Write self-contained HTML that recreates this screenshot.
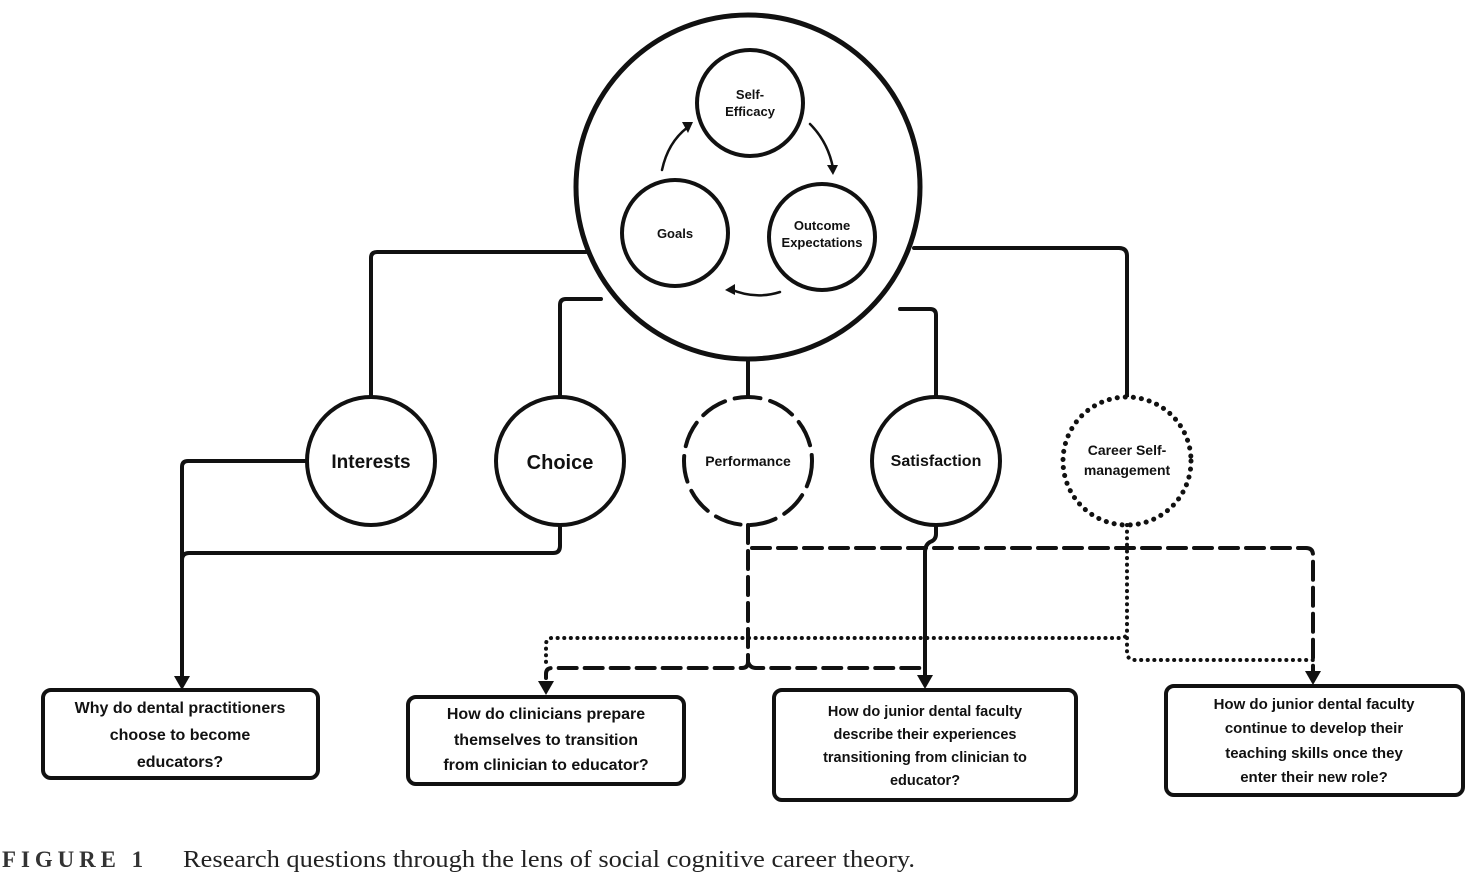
<!DOCTYPE html>
<html><head><meta charset="utf-8"><style>
html,body{margin:0;padding:0;background:#fff;width:1474px;height:876px;overflow:hidden}
svg text{font-family:"Liberation Sans",sans-serif;font-weight:bold;fill:#111}
</style></head><body>
<svg width="1474" height="876" viewBox="0 0 1474 876" xmlns="http://www.w3.org/2000/svg">
<g fill="none" stroke="#111" stroke-linecap="round" stroke-linejoin="round">
<circle cx="748" cy="187" r="172" stroke-width="5" fill="#fff"/>
<circle cx="750" cy="103" r="53" stroke-width="4"/>
<circle cx="675" cy="233" r="53" stroke-width="4"/>
<circle cx="822" cy="237" r="53" stroke-width="4"/>
<path d="M662 170 Q668 142 688 127" stroke-width="2.5"/>
<path d="M810 124 Q828 142 833 168" stroke-width="2.5"/>
<path d="M780 292 Q755 300 730 289" stroke-width="2.5"/>
<path d="M371 397 V258 Q371 252 377 252 H586" stroke-width="4"/>
<path d="M560 397 V305 Q560 299 566 299 H601" stroke-width="4"/>
<path d="M748 360 V397" stroke-width="4"/>
<path d="M936 397 V315 Q936 309 930 309 H900" stroke-width="4"/>
<path d="M1127 397 V256 Q1127 248 1119 248 H914" stroke-width="4"/>
<circle cx="371" cy="461" r="64" stroke-width="4" fill="#fff"/>
<circle cx="560" cy="461" r="64" stroke-width="4" fill="#fff"/>
<circle cx="748" cy="461" r="64" stroke-width="4" fill="#fff" stroke-dasharray="26 10"/>
<circle cx="936" cy="461" r="64" stroke-width="4" fill="#fff"/>
<circle cx="1127" cy="461" r="64" stroke-width="5" fill="#fff" stroke-dasharray="0.1 8"/>
<path d="M307 461 H188 Q182 461 182 467 V676" stroke-width="4"/>
<path d="M560 525 V546 Q560 553 553 553 H189 Q182 553 182 560" stroke-width="4"/>
<path d="M748 525 V662 Q748 668 742 668 H552 Q546 668 546 674 V678" stroke-width="4" stroke-dasharray="18 8"/>
<path d="M748 662 Q750 668 756 668 H924" stroke-width="4" stroke-dasharray="18 8"/>
<path d="M752 548 H1306 Q1313 548 1313 555 V672" stroke-width="4" stroke-dasharray="18 8"/>
<path d="M936 525 V534 Q936 540 930 542 Q925 545 925 552 V676" stroke-width="4"/>
<path d="M1127 525 V632 Q1127 638 1120 638 H552 Q546 638 546 645 V668" stroke-width="4" stroke-dasharray="0.1 6.5"/>
<path d="M1127 638 V652 Q1127 660 1135 660 H1313" stroke-width="4" stroke-dasharray="0.1 6.5"/>
<rect x="43" y="690" width="275" height="88" rx="8" stroke-width="4" fill="#fff"/>
<rect x="408" y="697" width="276" height="87" rx="8" stroke-width="4" fill="#fff"/>
<rect x="774" y="690" width="302" height="110" rx="8" stroke-width="4" fill="#fff"/>
<rect x="1166" y="686" width="297" height="109" rx="8" stroke-width="4" fill="#fff"/>
</g>
<g fill="#111">
<polygon points="682,122 693,122 688,133"/>
<polygon points="827,165 838,165 833,175"/>
<polygon points="725,290 735,284 735,295"/>
<polygon points="174,676 190,676 182,690"/>
<polygon points="538,681 554,681 546,695"/>
<polygon points="917,675 933,675 925,689"/>
<polygon points="1305,671 1321,671 1313,685"/>
</g>
<g text-anchor="middle" font-size="13">
<text x="750" y="99">Self-</text><text x="750" y="116">Efficacy</text>
<text x="675" y="238">Goals</text>
<text x="822" y="230">Outcome</text><text x="822" y="247">Expectations</text>
<text x="371" y="468" font-size="19">Interests</text>
<text x="560" y="469" font-size="20">Choice</text>
<text x="748" y="466" font-size="14">Performance</text>
<text x="936" y="466" font-size="16">Satisfaction</text>
<text x="1127" y="455" font-size="14">Career Self-</text><text x="1127" y="475" font-size="14">management</text>
<g font-size="16">
<text x="180" y="713">Why do dental practitioners</text>
<text x="180" y="740">choose to become</text>
<text x="180" y="767">educators?</text>
<text x="546" y="719">How do clinicians prepare</text>
<text x="546" y="745">themselves to transition</text>
<text x="546" y="770">from clinician to educator?</text>
</g>
<g font-size="14.5">
<text x="925" y="716">How do junior dental faculty</text>
<text x="925" y="739">describe their experiences</text>
<text x="925" y="762">transitioning from clinician to</text>
<text x="925" y="785">educator?</text>
</g>
<g font-size="15">
<text x="1314" y="709">How do junior dental faculty</text>
<text x="1314" y="733">continue to develop their</text>
<text x="1314" y="758">teaching skills once they</text>
<text x="1314" y="782">enter their new role?</text>
</g>
</g>
<text x="2" y="867" textLength="146" lengthAdjust="spacingAndGlyphs" style="font-family:'Liberation Serif',serif;font-weight:bold;letter-spacing:5px;fill:#333" font-size="23">FIGURE 1</text>
<text x="183" y="867" textLength="732" lengthAdjust="spacingAndGlyphs" style="font-family:'Liberation Serif',serif;font-weight:normal;fill:#222" font-size="24">Research questions through the lens of social cognitive career theory.</text>
</svg>
</body></html>
